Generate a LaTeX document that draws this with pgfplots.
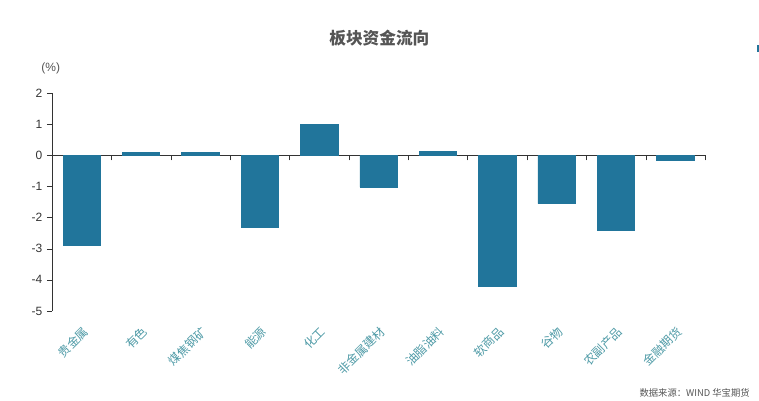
\documentclass[border=0pt]{standalone}
\usepackage{pgfplots}
\pgfplotsset{compat=1.18}
\usepackage{fontspec}
\setmainfont{Liberation Sans}
\newfontfamily\cjk{Noto Sans CJK SC}
\definecolor{barcol}{HTML}{21759B}
\definecolor{labcol}{HTML}{4E9AA6}
\definecolor{ticktext}{HTML}{333333}
\definecolor{titlecol}{HTML}{555555}
\tikzset{catlab/.style={rotate=45, anchor=east, text=labcol, font=\cjk\fontsize{9}{10}\selectfont, inner sep=1pt, xshift=-6.5pt, yshift=-12pt}}
\begin{document}
\begin{tikzpicture}
\path[use as bounding box] (0,0) rectangle (569.25pt,300pt);
\begin{axis}[
  at={(39pt,66.75pt)}, anchor=south west,
  scale only axis, width=489.75pt, height=163.5pt,
  xmin=-0.5, xmax=10.5, ymin=-5, ymax=2,
  axis y line=left, axis x line=middle,
  axis line style={-, draw=black!80},
  clip=false,
  ytick={-5,-4,-3,-2,-1,0,1,2},
  yticklabels={-5,-4,-3,-2,-1,0,1,2},
  yticklabel style={font=\fontsize{9}{10}\selectfont, text=ticktext},
  xtick={-0.5,0.5,...,10.5},
  xticklabels={},
  tick align=outside,
  major tick length=3.75pt,
  tick style={draw=black!80},
  ybar, bar width=28pt, bar shift=0pt,
]
\addplot[fill=barcol, draw=barcol] coordinates {
(0,-2.9) (1,0.1) (2,0.1) (3,-2.3) (4,1.0) (5,-1.02) (6,0.12) (7,-4.2) (8,-1.55) (9,-2.4) (10,-0.15)};
\node[catlab] at (axis cs:0,-5) {贵金属};
\node[catlab] at (axis cs:1,-5) {有色};
\node[catlab] at (axis cs:2,-5) {煤焦钢矿};
\node[catlab] at (axis cs:3,-5) {能源};
\node[catlab] at (axis cs:4,-5) {化工};
\node[catlab] at (axis cs:5,-5) {非金属建材};
\node[catlab] at (axis cs:6,-5) {油脂油料};
\node[catlab] at (axis cs:7,-5) {软商品};
\node[catlab] at (axis cs:8,-5) {谷物};
\node[catlab] at (axis cs:9,-5) {农副产品};
\node[catlab] at (axis cs:10,-5) {金融期货};
\end{axis}
\node[font=\cjk\bfseries\fontsize{12.5}{14}\selectfont, text=titlecol] at (284.5pt,271.5pt) {板块资金流向};
\node[font=\fontsize{9}{10}\selectfont, text=titlecol] at (38pt,249pt) {(\%)};
\node[font=\cjk\fontsize{7}{8}\selectfont, text=titlecol, anchor=east, inner sep=0pt] at (562.5pt,5.25pt) {数据来源：WIND 华宝期货};
\fill[barcol] (567.75pt,261pt) rectangle (569.25pt,266.25pt);
\end{tikzpicture}
\end{document}
